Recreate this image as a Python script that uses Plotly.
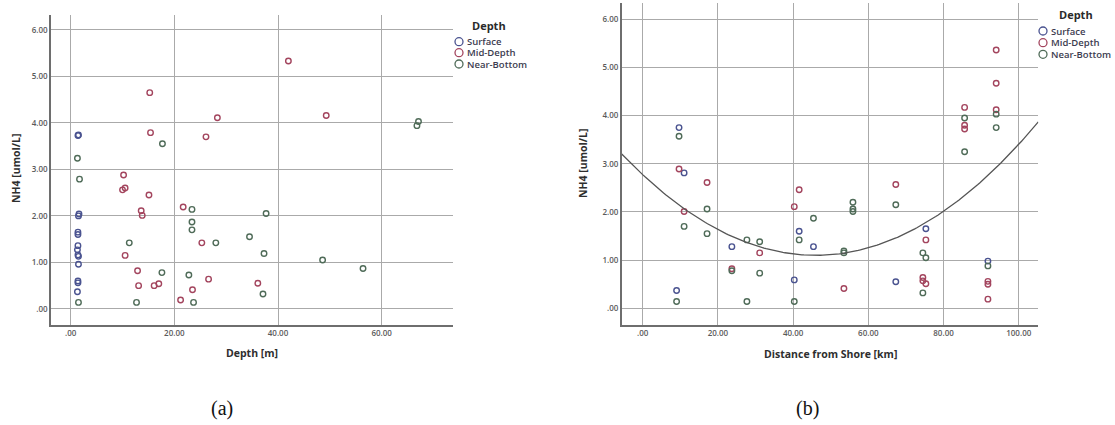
import plotly.graph_objects as go

# ---------------- data: panel (a) NH4 vs Depth ----------------
a_surface_x = [1.5, 1.4, 1.6, 1.5, 1.4, 1.4, 1.4, 1.3, 1.4, 1.5, 1.5, 1.4, 1.4, 1.3]
a_surface_y = [3.74, 3.73, 2.04, 2.00, 1.65, 1.60, 1.36, 1.27, 1.16, 1.13, 0.96, 0.60, 0.56, 0.37]

a_mid_x = [15.25, 15.4, 26.1, 28.3, 10.2, 10.0, 10.5, 15.1, 42.0, 49.3, 13.6, 13.8,
           10.5, 12.9, 13.1, 16.1, 17.0, 21.7, 25.3, 26.6, 23.5, 21.2, 36.1]
a_mid_y = [4.65, 3.79, 3.70, 4.11, 2.88, 2.56, 2.60, 2.45, 5.33, 4.16, 2.11, 2.01,
           1.15, 0.82, 0.50, 0.50, 0.54, 2.19, 1.42, 0.64, 0.41, 0.19, 0.55]

a_near_x = [1.3, 1.7, 1.5, 17.7, 66.8, 67.1, 11.3, 12.7, 17.6, 23.4, 23.4, 23.4,
            28.0, 34.5, 37.7, 37.3, 22.8, 23.7, 37.1, 48.6, 56.4]
a_near_y = [3.24, 2.79, 0.14, 3.55, 3.94, 4.03, 1.42, 0.14, 0.78, 2.14, 1.87, 1.70,
            1.42, 1.55, 2.05, 1.19, 0.73, 0.14, 0.32, 1.05, 0.87]

# ---------------- data: panel (b) NH4 vs Distance from Shore ----------------
b_surface_x = [9.65, 11.0, 23.7, 9.0, 40.3, 45.4, 67.3, 41.6, 75.3, 91.8]
b_surface_y = [3.75, 2.81, 1.28, 0.37, 0.59, 1.28, 0.55, 1.60, 1.65, 0.98]

b_mid_x = [9.65, 17.1, 41.6, 94.0, 94.0, 85.6, 85.6, 85.6, 94.0, 67.3, 11.0, 31.1,
           23.7, 40.3, 53.5, 75.3, 74.5, 74.5, 75.3, 91.8, 91.8, 91.8]
b_mid_y = [2.89, 2.61, 2.46, 5.36, 4.67, 4.17, 3.80, 3.72, 4.12, 2.57, 2.01, 1.15,
           0.82, 2.11, 0.41, 1.42, 0.64, 0.57, 0.51, 0.56, 0.50, 0.19]

b_near_x = [9.65, 85.6, 85.6, 94.0, 94.0, 17.1, 11.0, 17.1, 27.7, 31.1, 23.7, 31.1,
            9.0, 27.7, 40.3, 41.6, 45.4, 55.9, 55.9, 55.9, 67.3, 53.5, 53.5, 74.5,
            75.3, 74.5, 91.8]
b_near_y = [3.57, 3.95, 3.25, 4.03, 3.75, 2.06, 1.70, 1.55, 1.42, 1.38, 0.78, 0.73,
            0.14, 0.14, 0.14, 1.42, 1.87, 2.20, 2.06, 2.01, 2.15, 1.15, 1.19, 1.15,
            1.05, 0.32, 0.88]

# quadratic fit line (b): y = c2*x^2 + c1*x + c0
fit_c2, fit_c1, fit_c0 = 0.00079, -0.07268, 2.7716
fit_x_range = [-5.6, 105.2]

group_names = ["Surface", "Mid-Depth", "Near-Bottom"]
group_colors = ["#4a5390", "#a3455e", "#4f6b58"]

a_ticks = [0, 20, 40, 60]
b_ticks = [0, 20, 40, 60, 80, 100]
y_ticks = [0, 1, 2, 3, 4, 5, 6]


def fmt(v):
    s = f"{v:.2f}"
    return s[1:] if s.startswith("0") else s


W, H = 1115, 425
fig = go.Figure()

panels = [
    ("x", "y", [(a_surface_x, a_surface_y), (a_mid_x, a_mid_y), (a_near_x, a_near_y)]),
    ("x2", "y2", [(b_surface_x, b_surface_y), (b_mid_x, b_mid_y), (b_near_x, b_near_y)]),
]
for xa, ya, series in panels:
    for (xs, ys), name, col in zip(series, group_names, group_colors):
        fig.add_trace(go.Scatter(
            x=xs, y=ys, mode="markers", name=name, xaxis=xa, yaxis=ya,
            showlegend=False,
            marker=dict(symbol="circle-open", size=5.5, color=col, line=dict(width=1.4, color=col)),
        ))

# fit curve
n = 200
fx = [fit_x_range[0] + (fit_x_range[1] - fit_x_range[0]) * i / (n - 1) for i in range(n)]
fy = [fit_c2 * v * v + fit_c1 * v + fit_c0 for v in fx]
fig.add_trace(go.Scatter(x=fx, y=fy, mode="lines", xaxis="x2", yaxis="y2", showlegend=False,
                         line=dict(color="#555555", width=1.3), hoverinfo="skip"))

# pixel -> paper helpers
def px(x):
    return x / W


def py(y):
    return 1 - y / H


tickfont = dict(family="Open Sans", size=8, color="#5a5a5a", weight=600)
axis_common = dict(showgrid=True, gridcolor="#aaaaaa", gridwidth=1.2, zeroline=False,
                   showline=True, linecolor="#6e6e6e", linewidth=1.6, ticks="",
                   tickfont=tickfont, mirror=False, fixedrange=True)

fig.update_layout(
    width=W, height=H, margin=dict(l=0, r=0, t=0, b=0),
    paper_bgcolor="white", plot_bgcolor="white", showlegend=False,
    xaxis=dict(domain=[px(51), px(452.7)], range=[-3.8, 73.7], anchor="y",
               tickvals=a_ticks, ticktext=[fmt(v) for v in a_ticks], **axis_common),
    yaxis=dict(domain=[py(324.7), py(15)], range=[-0.34, 6.32], anchor="x",
               tickvals=y_ticks, ticktext=[fmt(v) for v in y_ticks], **axis_common),
    xaxis2=dict(domain=[px(621.7), px(1038.3)], range=[-5.6, 105.2], anchor="y2",
                tickvals=b_ticks, ticktext=[fmt(v) for v in b_ticks], **axis_common),
    yaxis2=dict(domain=[py(324.7), py(3.3)], range=[-0.34, 6.33], anchor="x2",
                tickvals=y_ticks, ticktext=[fmt(v) for v in y_ticks], **axis_common),
)

title_font = dict(family="Open Sans", size=10.5, color="#2e2e2e", weight=700)
ann = []
# axis titles
ann.append(dict(text="Depth [m]", x=px(252), y=py(353), font=title_font))
ann.append(dict(text="NH4 [umol/L]", x=px(16), y=py(169), textangle=-90, font=title_font))
ann.append(dict(text="Distance from Shore [km]", x=px(830), y=py(354), font=title_font))
ann.append(dict(text="NH4 [umol/L]", x=px(583), y=py(164), textangle=-90, font=title_font))
# panel labels
ann.append(dict(text="(a)", x=px(222), y=py(408), font=dict(family="Liberation Serif", size=20, color="#111")))
ann.append(dict(text="(b)", x=px(807), y=py(408), font=dict(family="Liberation Serif", size=20, color="#111")))

# manual legends
shapes = []
legends = [
    dict(title_x=489, title_y=25, circ_x=459, text_x=465, ys=[41.7, 52.7, 64]),
    dict(title_x=1076, title_y=14, circ_x=1043, text_x=1049, ys=[31, 42.7, 54.3]),
]
for lg in legends:
    ann.append(dict(text="Depth", x=px(lg["title_x"]), y=py(lg["title_y"]),
                    font=dict(family="Open Sans", size=11, color="#2a2a2a", weight=700)))
    for name, col, yy in zip(group_names, group_colors, lg["ys"]):
        ann.append(dict(text=name, x=px(lg["text_x"]), y=py(yy), xanchor="left",
                        font=dict(family="Open Sans", size=9.5, color="#3c3c50", weight=600)))
        shapes.append(dict(type="circle", xref="paper", yref="paper",
                           xsizemode="pixel", ysizemode="pixel",
                           xanchor=px(lg["circ_x"]), yanchor=py(yy),
                           x0=-4, x1=4, y0=-4, y1=4,
                           line=dict(color=col, width=1.3), fillcolor="rgba(0,0,0,0)"))

for a in ann:
    a.setdefault("xref", "paper")
    a.setdefault("yref", "paper")
    a.setdefault("showarrow", False)
    a.setdefault("xanchor", "center")
    a.setdefault("yanchor", "middle")
fig.update_layout(annotations=ann, shapes=shapes)

fig.write_html("out.html", config={"displayModeBar": False})
